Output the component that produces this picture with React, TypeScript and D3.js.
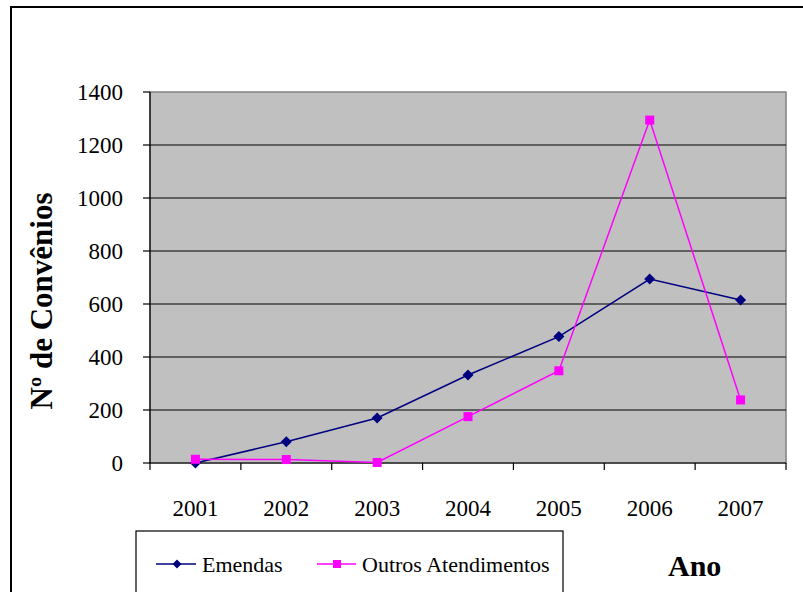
import React from "react";
import * as d3 from "d3";

const years = ["2001", "2002", "2003", "2004", "2005", "2006", "2007"];
const emendas = [0, 80, 170, 332, 477, 694, 615];
const outros = [14, 13, 2, 175, 348, 1294, 238];
const yTicks = [0, 200, 400, 600, 800, 1000, 1200, 1400];

const W = 803;
const H = 592;
const plot = { left: 150, right: 786, top: 92, bottom: 463 };
const FONT = "'Liberation Serif', 'Times New Roman', serif";
const tStyle: React.CSSProperties = { fontFamily: FONT, fontWeight: 400 };
const bStyle: React.CSSProperties = { fontFamily: FONT, fontWeight: 700 };

export default function App() {
  const x = d3.scaleBand<string>().domain(years).range([plot.left, plot.right]).padding(0);
  const y = d3.scaleLinear().domain([0, 1400]).range([plot.bottom, plot.top]);
  const cx = (yr: string) => (x(yr) as number) + x.bandwidth() / 2;
  const line = d3
    .line<number>()
    .x((_, i) => cx(years[i]))
    .y((d) => y(d));
  const diamond = (px: number, py: number, r = 5.5) =>
    `M${px},${py - r}L${px + r},${py}L${px},${py + r}L${px - r},${py}Z`;
  const boundaries = [...years.map((yr) => x(yr) as number), plot.right];

  return (
    <div style={{ position: "absolute", left: 0, top: 0, width: W, height: H, overflow: "hidden" }}>
      <svg width={W} height={H} style={{ display: "block", background: "#fff" }}>
        <rect x={11} y={7} width={W} height={H} fill="#fff" stroke="#000" strokeWidth={2} />
        <rect
          x={plot.left}
          y={plot.top}
          width={plot.right - plot.left}
          height={plot.bottom - plot.top}
          fill="#c0c0c0"
          stroke="#808080"
          strokeWidth={1.5}
        />
        {yTicks.slice(1, -1).map((t) => (
          <line key={t} x1={plot.left} x2={plot.right} y1={y(t)} y2={y(t)} stroke="#000" strokeWidth={1.2} />
        ))}
        <line x1={plot.left} x2={plot.left} y1={plot.top} y2={plot.bottom} stroke="#000" strokeWidth={1.2} />
        {yTicks.map((t) => (
          <g key={t}>
            <line x1={plot.left - 7} x2={plot.left} y1={y(t)} y2={y(t)} stroke="#000" strokeWidth={1.2} />
            <text x={123} y={y(t) + 8} textAnchor="end" style={tStyle} fontSize={23} fill="#000">
              {t}
            </text>
          </g>
        ))}
        <line x1={plot.left} x2={plot.right} y1={plot.bottom} y2={plot.bottom} stroke="#000" strokeWidth={1.2} />
        {boundaries.map((bx, i) => (
          <line key={i} x1={bx} x2={bx} y1={plot.bottom} y2={plot.bottom + 7} stroke="#000" strokeWidth={1.2} />
        ))}
        {years.map((yr) => (
          <text key={yr} x={cx(yr)} y={516} textAnchor="middle" style={tStyle} fontSize={23} fill="#000">
            {yr}
          </text>
        ))}
        <text transform={`translate(52, 301) rotate(-90)`} textAnchor="middle" style={bStyle} fontSize={31} fill="#000">
          Nº de Convênios
        </text>
        <path d={line(emendas) || ""} fill="none" stroke="#000080" strokeWidth={1.5} />
        <path d={line(outros) || ""} fill="none" stroke="#ff00ff" strokeWidth={1.5} />
        {emendas.map((v, i) => (
          <path key={"e" + i} d={diamond(cx(years[i]), y(v))} fill="#000080" />
        ))}
        {outros.map((v, i) => (
          <rect key={"o" + i} x={cx(years[i]) - 4.5} y={y(v) - 4.5} width={9} height={9} fill="#ff00ff" />
        ))}
        <rect x={136} y={531} width={427} height={80} fill="#fff" stroke="#000" strokeWidth={1.2} />
        <line x1={156} x2={196} y1={564} y2={564} stroke="#000080" strokeWidth={1.5} />
        <path d={diamond(177, 564, 4.5)} fill="#000080" />
        <text x={202} y={572} style={tStyle} fontSize={22} fill="#000">
          Emendas
        </text>
        <line x1={317} x2={356} y1={564} y2={564} stroke="#ff00ff" strokeWidth={1.5} />
        <rect x={333} y={560} width={8} height={8} fill="#ff00ff" />
        <text x={362} y={572} style={tStyle} fontSize={22} fill="#000">
          Outros Atendimentos
        </text>
        <text x={668} y={576} style={bStyle} fontSize={30} fill="#000">
          Ano
        </text>
      </svg>
    </div>
  );
}
